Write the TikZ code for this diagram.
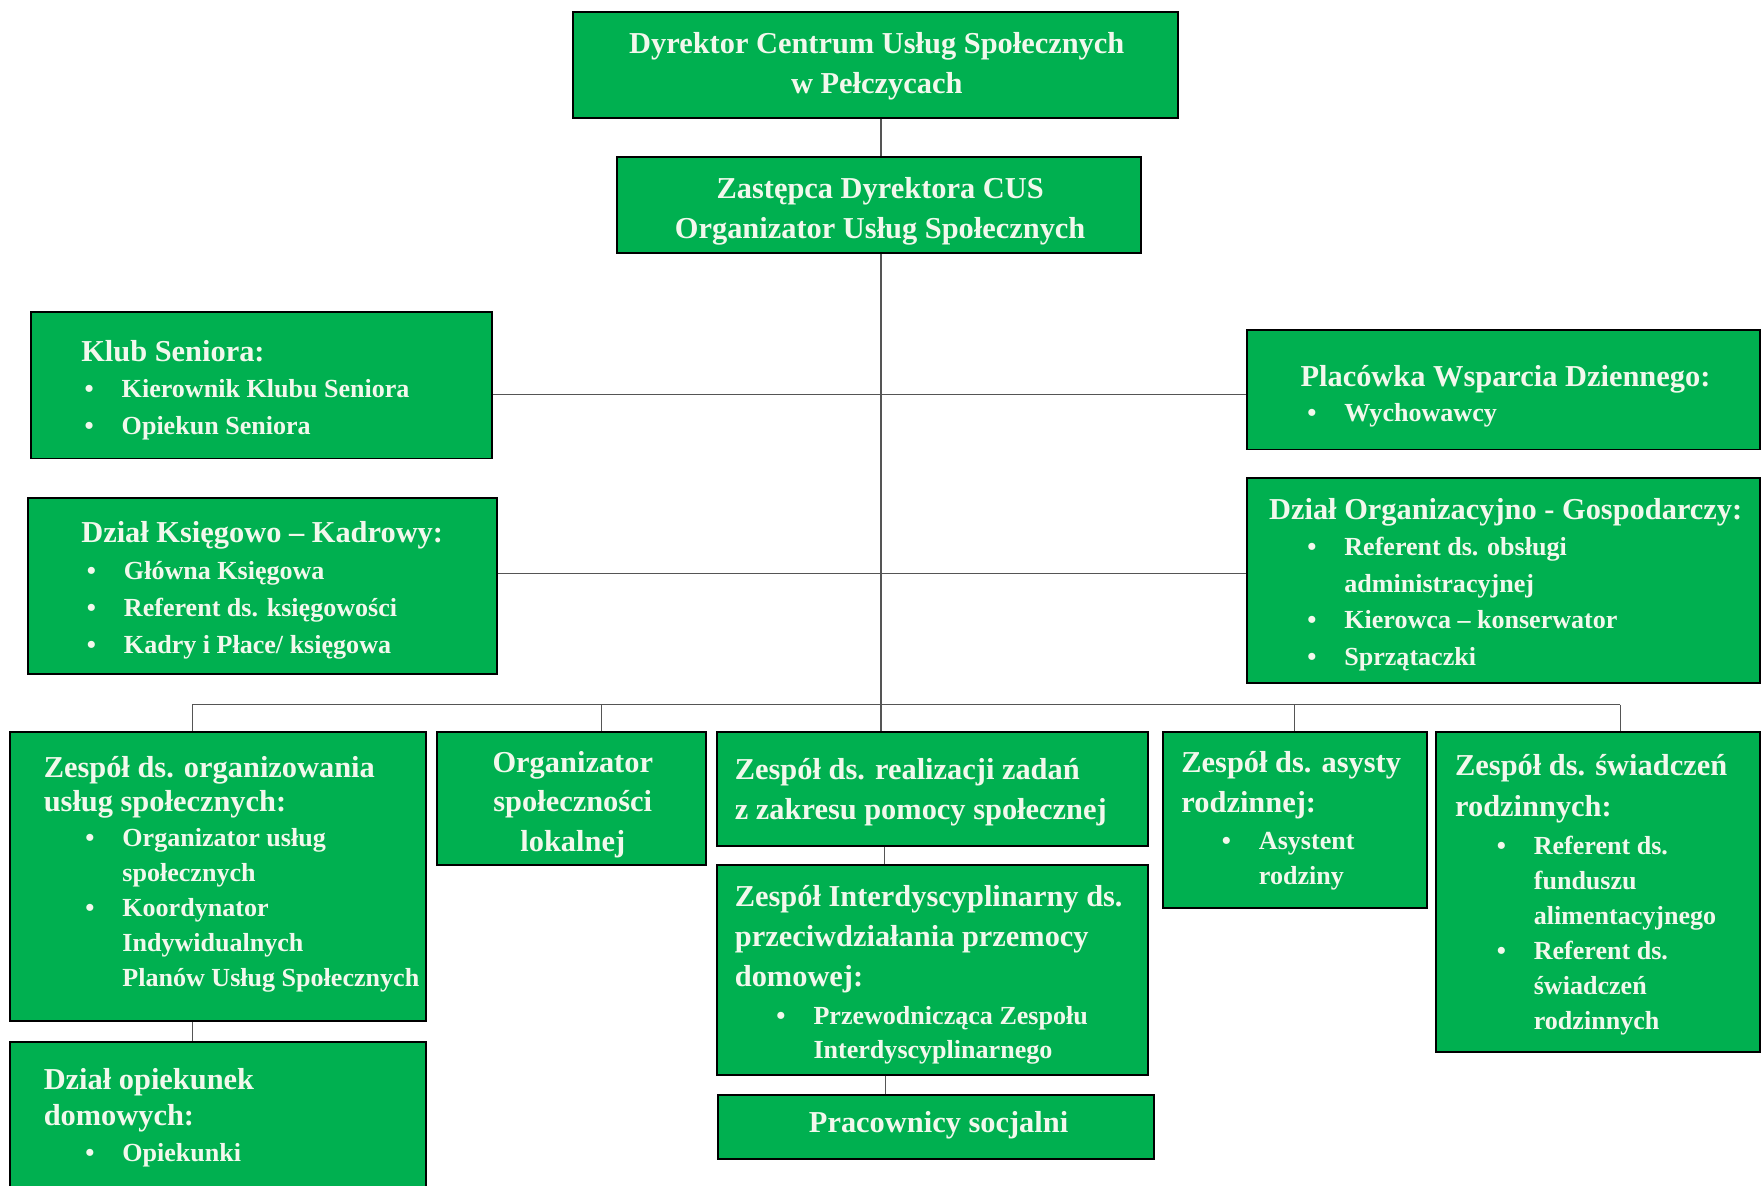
\documentclass[tikz,border=0pt]{standalone}
\usepackage{fontspec}
\setmainfont{Liberation Serif}
\usetikzlibrary{fit}
\definecolor{boxgreen}{RGB}{0,176,80}
\definecolor{boxtext}{RGB}{242,248,236}
\definecolor{linegray}{RGB}{85,85,85}
\newlength{\px}\setlength{\px}{0.02cm}
\newcommand{\hdfont}{\fontsize{15.4pt}{18pt}\selectfont\bfseries}
\newcommand{\itfont}{\fontsize{13.2pt}{16pt}\selectfont\bfseries}
\newcommand{\hdln}[1]{\hbox{\hdfont #1}}
\newcommand{\ctln}[1]{\hbox to 0pt{\hss\hdfont #1\hss}}
\newcommand{\itln}[2]{\hbox{\itfont\kern#1\px\hbox to 33\px{\textbullet\hss}#2}}
\newcommand{\ctdln}[2]{\hbox{\itfont\kern#1\px\kern33\px #2}}
\tikzset{
  box/.style={draw=black, line width=1pt, fill=boxgreen, inner sep=0pt},
  txt/.style={anchor=base west, inner sep=0pt, text=boxtext, yshift=-0.05cm},
  conn/.style={draw=linegray, line width=0.6pt}
}
\begin{document}
\begin{tikzpicture}[x=0.02cm, y=-0.02cm]
\useasboundingbox (0,0) rectangle (1568,1055);
% boxes
\node[box, fit={(510,11)(1048,105)}] (dyr) {};
\node[box, fit={(549,140)(1015,225)}] (zast) {};
\node[box, fit={(28,278)(438,408)}] (klub) {};
\node[box, fit={(1110,294)(1566,400)}] (plac) {};
\node[box, fit={(25,443)(442,600)}] (ksieg) {};
\node[box, fit={(1110,425)(1566,608)}] (orggosp) {};
\node[box, fit={(9,651)(379,909)}] (zorg) {};
\node[box, fit={(9,927)(379,1070)}] (opiek) {};
\node[box, fit={(389,651)(628,770)}] (orgspol) {};
\node[box, fit={(638,651)(1022,753)}] (realiz) {};
\node[box, fit={(638,770)(1022,957)}] (interd) {};
\node[box, fit={(639,974)(1027,1031)}] (prac) {};
\node[box, fit={(1035,651)(1270,808)}] (asyst) {};
\node[box, fit={(1278,651)(1566,936)}] (swiad) {};
% texts
\node[txt] (dyrt) at (779,45) {\vtop{\baselineskip=36\px
  \ctln{Dyrektor Centrum Usług Społecznych}\ctln{w Pełczycach}}};
\node[txt] (zastt) at (782,174) {\vtop{\baselineskip=36\px
  \ctln{Zastępca Dyrektora CUS}\ctln{Organizator Usług Społecznych}}};
\node[txt] (klubt) at (72,319) {\vtop{\baselineskip=32.5\px
  \hdln{Klub Seniora:}
  \itln{3}{Kierownik Klubu Seniora}
  \itln{3}{Opiekun Seniora}}};
\node[txt] (plact) at (1157,341) {\vtop{\baselineskip=32\px
  \hdln{Placówka Wsparcia Dziennego:}
  \itln{6}{Wychowawcy}}};
\node[txt] (ksiegt) at (72,480) {\vtop{\baselineskip=33\px
  \hdln{Dział Księgowo – Kadrowy:}
  \itln{5}{Główna Księgowa}
  \itln{5}{Referent ds. księgowości}
  \itln{5}{Kadry i Płace/ księgowa}}};
\node[txt] (orggospt) at (1129,459.5) {\vtop{\baselineskip=32.5\px
  \hdln{Dział Organizacyjno - Gospodarczy:}
  \itln{34}{Referent ds. obsługi}
  \ctdln{34}{administracyjnej}
  \itln{34}{Kierowca – konserwator}
  \itln{34}{Sprzątaczki}}};
\node[txt] (zorgt) at (38.6,689) {\vtop{\baselineskip=31\px
  \hdln{Zespół ds. organizowania}
  \hdln{usług społecznych:}
  \itln{37}{Organizator usług}
  \ctdln{37}{społecznych}
  \itln{37}{Koordynator}
  \ctdln{37}{Indywidualnych}
  \ctdln{37}{Planów Usług Społecznych}}};
\node[txt] (opiekt) at (38.6,967) {\vtop{\baselineskip=32\px
  \hdln{Dział opiekunek}
  \hdln{domowych:}
  \itln{37}{Opiekunki}}};
\node[txt] (orgspolt) at (508.5,685) {\vtop{\baselineskip=35\px
  \ctln{Organizator}\ctln{społeczności}\ctln{lokalnej}}};
\node[txt] (realizt) at (653.6,691) {\vtop{\baselineskip=36\px
  \hdln{Zespół ds. realizacji zadań}
  \hdln{z zakresu pomocy społecznej}}};
\node[txt] (interdt) at (653.6,804) {\vtop{\baselineskip=35.5\px
  \hdln{Zespół Interdyscyplinarny ds.}
  \hdln{przeciwdziałania przemocy}
  \hdln{domowej:}
  \baselineskip=34\px \itln{37}{Przewodnicząca Zespołu}
  \baselineskip=30\px \ctdln{37}{Interdyscyplinarnego}}};
\node[txt] (pract) at (834,1005) {\vtop{\ctln{Pracownicy socjalni}}};
\node[txt] (asystt) at (1051,685) {\vtop{\baselineskip=35.5\px
  \hdln{Zespół ds. asysty}
  \hdln{rodzinnej:}
  \baselineskip=33\px \itln{36}{Asystent}
  \baselineskip=31\px \ctdln{36}{rodziny}}};
\node[txt] (swiadt) at (1294.6,688) {\vtop{\baselineskip=35.8\px
  \hdln{Zespół ds. świadczeń}
  \hdln{rodzinnych:}
  \baselineskip=34\px \itln{37}{Referent ds.}
  \baselineskip=31.2\px \ctdln{37}{funduszu}
  \ctdln{37}{alimentacyjnego}
  \itln{37}{Referent ds.}
  \ctdln{37}{świadczeń}
  \ctdln{37}{rodzinnych}}};
% connectors
\coordinate (spine) at (784,627);
\coordinate (hla) at (784,351);
\coordinate (hlb) at (784,510);
\coordinate (bzorg) at (171,627);
\coordinate (borgspol) at (535,627);
\coordinate (basyst) at (1152,627);
\coordinate (bswiad) at (1442,627);
\coordinate (rx) at (787,0);
\coordinate (px) at (788,0);
\draw[conn] (dyr.south -| spine) -- (zast.north -| spine);
\draw[conn] (zast.south -| spine) -- (realiz.north -| spine);
\draw[conn] (klub.east |- hla) -- (plac.west |- hla);
\draw[conn] (ksieg.east |- hlb) -- (orggosp.west |- hlb);
\draw[conn] (bzorg) -- (bswiad);
\foreach \n in {zorg,orgspol,asyst,swiad}
  \draw[conn] (b\n) -- (\n.north -| b\n);
\draw[conn] (zorg.south -| bzorg) -- (opiek.north -| bzorg);
\draw[conn] (realiz.south -| rx) -- (interd.north -| rx);
\draw[conn] (interd.south -| px) -- (prac.north -| px);
\end{tikzpicture}
\end{document}
